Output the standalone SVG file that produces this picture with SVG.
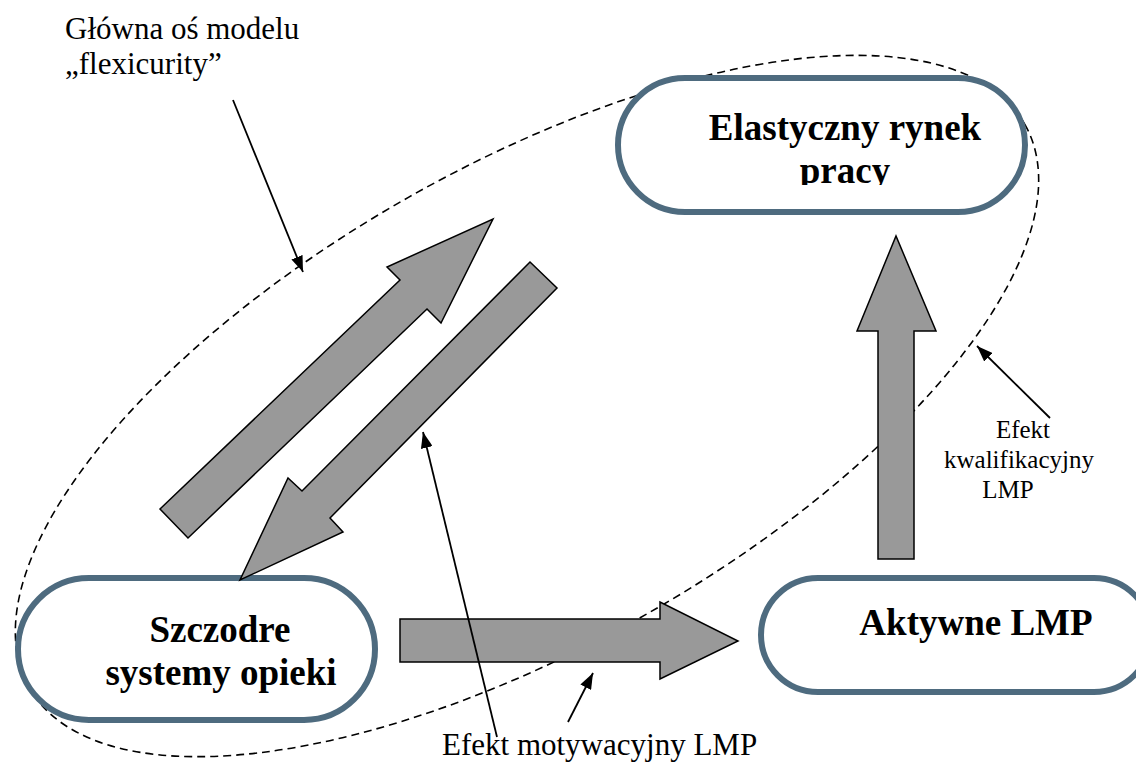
<svg xmlns="http://www.w3.org/2000/svg" width="1136" height="762" viewBox="0 0 1136 762">
<style>
.pill{fill:#fff;stroke:#4E6B7F;stroke-width:6}
.blk{fill:#999;stroke:#000;stroke-width:1.5;stroke-linejoin:miter}
.bt{font-family:'Liberation Serif',serif;font-weight:bold;font-size:37px;fill:#000;text-anchor:middle}
.nt{font-family:'Liberation Serif',serif;font-size:31px;fill:#000}
.st{font-family:'Liberation Serif',serif;font-size:25px;fill:#000;text-anchor:middle}
.call{stroke:#000;stroke-width:1.8;fill:none;marker-end:url(#ah)}
</style>
<defs>
<marker id="ah" markerUnits="userSpaceOnUse" markerWidth="16" markerHeight="12" refX="16" refY="6" orient="auto"><path d="M0,0 L16,6 L0,12 z" fill="#000"/></marker>
<clipPath id="clipPracy"><rect x="600" y="60" width="450" height="125"/></clipPath>
</defs>
<g id="axis">
<ellipse cx="527" cy="406" rx="572" ry="240" transform="rotate(-29.5 527 406)" fill="none" stroke="#000" stroke-width="1.6" stroke-dasharray="8 5"/>
</g>
<g id="node-elastyczny">
<rect class="pill" x="618" y="78" width="407" height="134" rx="67"/>
<text class="bt" font-family="Liberation Serif, serif" x="845" y="140">Elastyczny rynek</text>
<text class="bt" font-family="Liberation Serif, serif" x="845" y="183" clip-path="url(#clipPracy)">pracy</text>
</g>
<g id="node-szczodre">
<rect class="pill" x="18" y="578" width="357" height="142" rx="71"/>
<text class="bt" font-family="Liberation Serif, serif" x="220" y="642">Szczodre</text>
<text class="bt" font-family="Liberation Serif, serif" x="221" y="685">systemy opieki</text>
</g>
<g id="node-aktywne">
<rect class="pill" x="761" y="578" width="390" height="114" rx="57"/>
<text class="bt" font-family="Liberation Serif, serif" x="976" y="635">Aktywne LMP</text>
</g>
<g id="connectors">
<path class="blk" d="M160,509 L400,280 L387,267 L493,219 L441,323 L427,309 L188,538 Z"/>
<path class="blk" d="M530,262 L557,288 L330,518 L343,532 L240,580 L288,478 L302,491 Z"/>
<path class="blk" d="M400,619 L660,619 L660,602 L738,641 L660,679 L660,662 L400,662 Z"/>
<path class="blk" d="M878,559 L878,331 L857,331 L896,236 L936,331 L914,331 L914,559 Z"/>
<line class="call" x1="233" y1="100" x2="303" y2="272"/>
<line class="call" x1="497" y1="737" x2="423" y2="432"/>
<line class="call" x1="568" y1="722" x2="593" y2="673"/>
<line class="call" x1="1050" y1="418" x2="977" y2="346"/>
</g>
<g id="labels">
<text class="nt" font-family="Liberation Serif, serif" x="65" y="39">Główna oś modelu</text>
<text class="nt" font-family="Liberation Serif, serif" x="65" y="74">„flexicurity”</text>
<text class="nt" font-family="Liberation Serif, serif" x="442" y="755">Efekt motywacyjny LMP</text>
<text class="st" font-family="Liberation Serif, serif" x="1023" y="438">Efekt</text>
<text class="st" font-family="Liberation Serif, serif" x="1019" y="468">kwalifikacyjny</text>
<text class="st" font-family="Liberation Serif, serif" x="1008" y="498">LMP</text>
</g>
</svg>
